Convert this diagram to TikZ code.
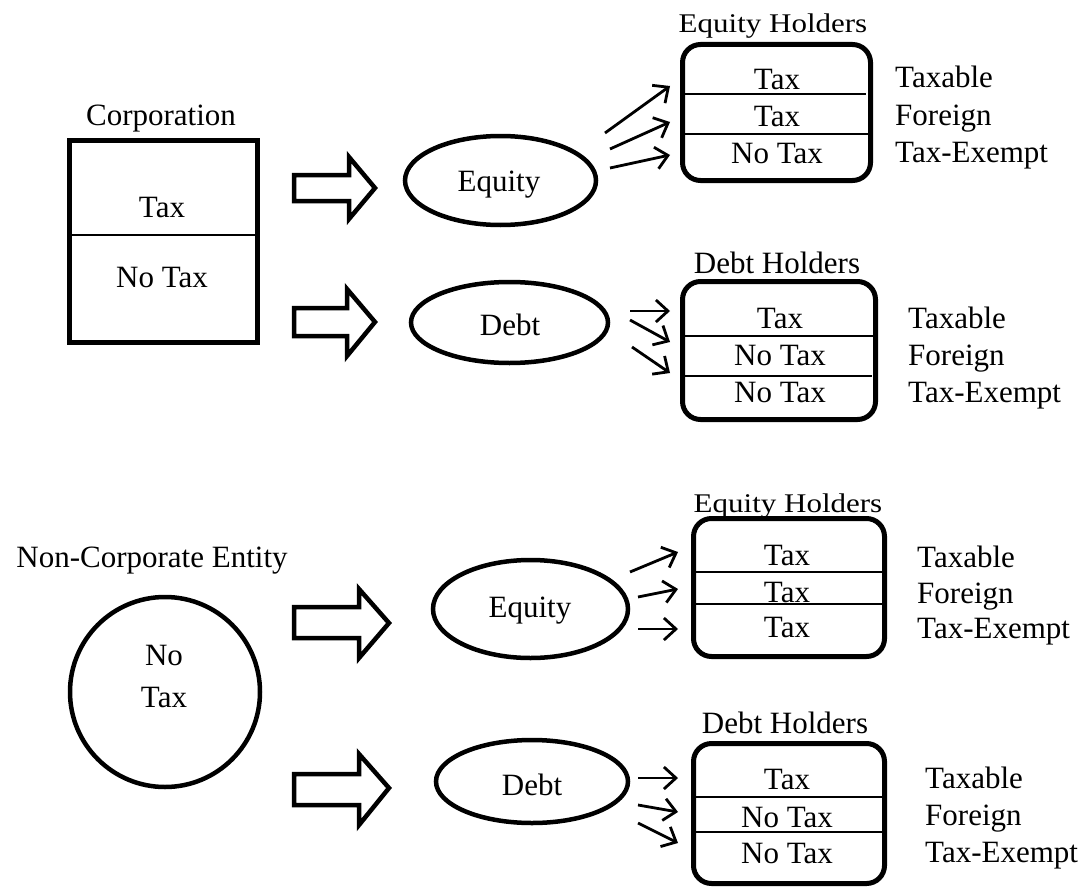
\documentclass[tikz,border=0pt]{standalone}
\usepackage{fontspec}
\setmainfont{Liberation Serif}
\usepackage{graphicx}
\usetikzlibrary{shapes.geometric,arrows.meta}
\begin{document}
\begin{tikzpicture}[x=1pt,y=-1pt,
  txt/.style={font=\fontsize{31}{36}\selectfont, inner sep=0pt, anchor=base},
  rtxt/.style={txt, anchor=base west},
  holder/.style={draw, line width=5pt, rounded corners=18pt, inner sep=0pt},
  oval/.style={draw, ellipse, line width=4.5pt, inner sep=0pt},
  divider/.style={line width=2pt},
  blockarrow/.style={draw, line width=4.5pt, line join=miter, miter limit=10},
  smallarrow/.style={line width=2.8pt, -{Straight Barb[length=12pt,width=22pt,line width=2.8pt]}}
]
\useasboundingbox (0,0) rectangle (1091,888);

% ---------------- top: corporation ----------------
\node[txt] (corplab) at (161,125) {Corporation};
\node[draw, line width=5pt, inner sep=0pt, minimum width=188pt, minimum height=202pt] (corp) at (163.5,241.5) {};
\draw[divider] (69.5,235) -- (257.5,235);
\node[txt] (corptax) at (162,217) {Tax};
\node[txt] (corpnotax) at (162,287) {No Tax};

\draw[blockarrow] (294,175) -- (349,175) -- (349,157) -- (375,188) -- (349,219) -- (349,201) -- (294,201) -- cycle;
\draw[blockarrow] (294,308) -- (347,308) -- (347,289) -- (375,322) -- (347,356) -- (347,336) -- (294,336) -- cycle;

\node[oval, minimum width=191pt, minimum height=89pt] (eq1) at (500.5,180.5) {};
\node[txt] (eq1t) at (499,191) {Equity};
\node[oval, minimum width=197pt, minimum height=81pt] (db1) at (509.5,322.5) {};
\node[txt] (db1t) at (510,335) {Debt};

% equity holders 1
\node[txt] (eh1lab) at (773,33) {\scalebox{1}[0.87]{Equity Holders}};
\node[holder, minimum width=188pt, minimum height=136pt] (eh1) at (776.5,112.5) {};
\draw[divider] (682,94) -- (866,94);
\draw[divider] (682,134) -- (871,134);
\node[txt] (eh1a) at (777,90) {Tax};
\node[txt] (eh1b) at (777,127) {Tax};
\node[txt] (eh1c) at (777,163) {No Tax};
\node[rtxt] (eh1x) at (895,88) {Taxable};
\node[rtxt] (eh1y) at (895,125) {Foreign};
\node[rtxt] (eh1z) at (895,162) {Tax-Exempt};
\coordinate (e1s1) at (605,133); \coordinate (e1t1) at (670,86);
\coordinate (e1s2) at (610,149); \coordinate (e1t2) at (670,122);
\coordinate (e1s3) at (610,168); \coordinate (e1t3) at (670,155);
\draw[smallarrow] (e1s1) -- (e1t1);
\draw[smallarrow] (e1s2) -- (e1t2);
\draw[smallarrow] (e1s3) -- (e1t3);

% debt holders 1
\node[txt] (dh1lab) at (777,273) {Debt Holders};
\node[holder, minimum width=193pt, minimum height=138pt] (dh1) at (779,350.5) {};
\draw[divider] (682,336) -- (873,336);
\draw[divider] (682,376) -- (872,376);
\node[txt] (dh1a) at (780,328) {Tax};
\node[txt] (dh1b) at (780,365) {No Tax};
\node[txt] (dh1c) at (780,402) {No Tax};
\node[rtxt] (dh1x) at (908,328) {Taxable};
\node[rtxt] (dh1y) at (908,365) {Foreign};
\node[rtxt] (dh1z) at (908,402) {Tax-Exempt};
\coordinate (d1s1) at (630,311); \coordinate (d1t1) at (670,311);
\coordinate (d1s2) at (630,320); \coordinate (d1t2) at (670,342);
\coordinate (d1s3) at (632,347); \coordinate (d1t3) at (670,373);
\draw[smallarrow] (d1s1) -- (d1t1);
\draw[smallarrow] (d1s2) -- (d1t2);
\draw[smallarrow] (d1s3) -- (d1t3);

% ---------------- bottom: non-corporate ----------------
\node[txt] (nclab) at (152,567) {Non-Corporate Entity};
\node[draw, circle, line width=4.5pt, inner sep=0pt, minimum size=190pt] (nc) at (165,692) {};
\node[txt] (ncno) at (164,665) {No};
\node[txt] (nctax) at (164,707) {Tax};

\draw[blockarrow] (294,607) -- (359,607) -- (359,589) -- (389,623) -- (359,658) -- (359,638) -- (294,638) -- cycle;
\draw[blockarrow] (294,774) -- (359,774) -- (359,754) -- (389,788) -- (359,825) -- (359,805) -- (294,805) -- cycle;

\node[oval, minimum width=195pt, minimum height=98pt] (eq2) at (530.5,609) {};
\node[txt] (eq2t) at (530,617) {Equity};
\node[oval, minimum width=192pt, minimum height=83pt] (db2) at (532,781.5) {};
\node[txt] (db2t) at (532,795) {Debt};

% equity holders 2
\node[txt] (eh2lab) at (788,512) {\scalebox{1}[0.87]{Equity Holders}};
\node[holder, minimum width=191pt, minimum height=138pt] (eh2) at (789,587.5) {};
\draw[divider] (693,572) -- (885,572);
\draw[divider] (693,604) -- (885,604);
\node[txt] (eh2a) at (787,565) {Tax};
\node[txt] (eh2b) at (787,602) {Tax};
\node[txt] (eh2c) at (787,637) {Tax};
\node[rtxt] (eh2x) at (917,567) {Taxable};
\node[rtxt] (eh2y) at (917,603) {Foreign};
\node[rtxt] (eh2z) at (917,638) {Tax-Exempt};
\coordinate (e2s1) at (630,572); \coordinate (e2t1) at (678,552);
\coordinate (e2s2) at (638,597); \coordinate (e2t2) at (678,589);
\coordinate (e2s3) at (638,629); \coordinate (e2t3) at (678,629);
\draw[smallarrow] (e2s1) -- (e2t1);
\draw[smallarrow] (e2s2) -- (e2t2);
\draw[smallarrow] (e2s3) -- (e2t3);

% debt holders 2
\node[txt] (dh2lab) at (785,733) {Debt Holders};
\node[holder, minimum width=191pt, minimum height=140pt] (dh2) at (789,813.5) {};
\draw[divider] (693,797) -- (885,797);
\draw[divider] (693,832) -- (885,832);
\node[txt] (dh2a) at (787,789) {Tax};
\node[txt] (dh2b) at (787,827) {No Tax};
\node[txt] (dh2c) at (787,863) {No Tax};
\node[rtxt] (dh2x) at (925,788) {Taxable};
\node[rtxt] (dh2y) at (925,825) {Foreign};
\node[rtxt] (dh2z) at (925,862) {Tax-Exempt};
\coordinate (d2s1) at (638,778); \coordinate (d2t1) at (678,778);
\coordinate (d2s2) at (638,805); \coordinate (d2t2) at (678,812);
\coordinate (d2s3) at (638,823); \coordinate (d2t3) at (678,843);
\draw[smallarrow] (d2s1) -- (d2t1);
\draw[smallarrow] (d2s2) -- (d2t2);
\draw[smallarrow] (d2s3) -- (d2t3);
\end{tikzpicture}
\end{document}
